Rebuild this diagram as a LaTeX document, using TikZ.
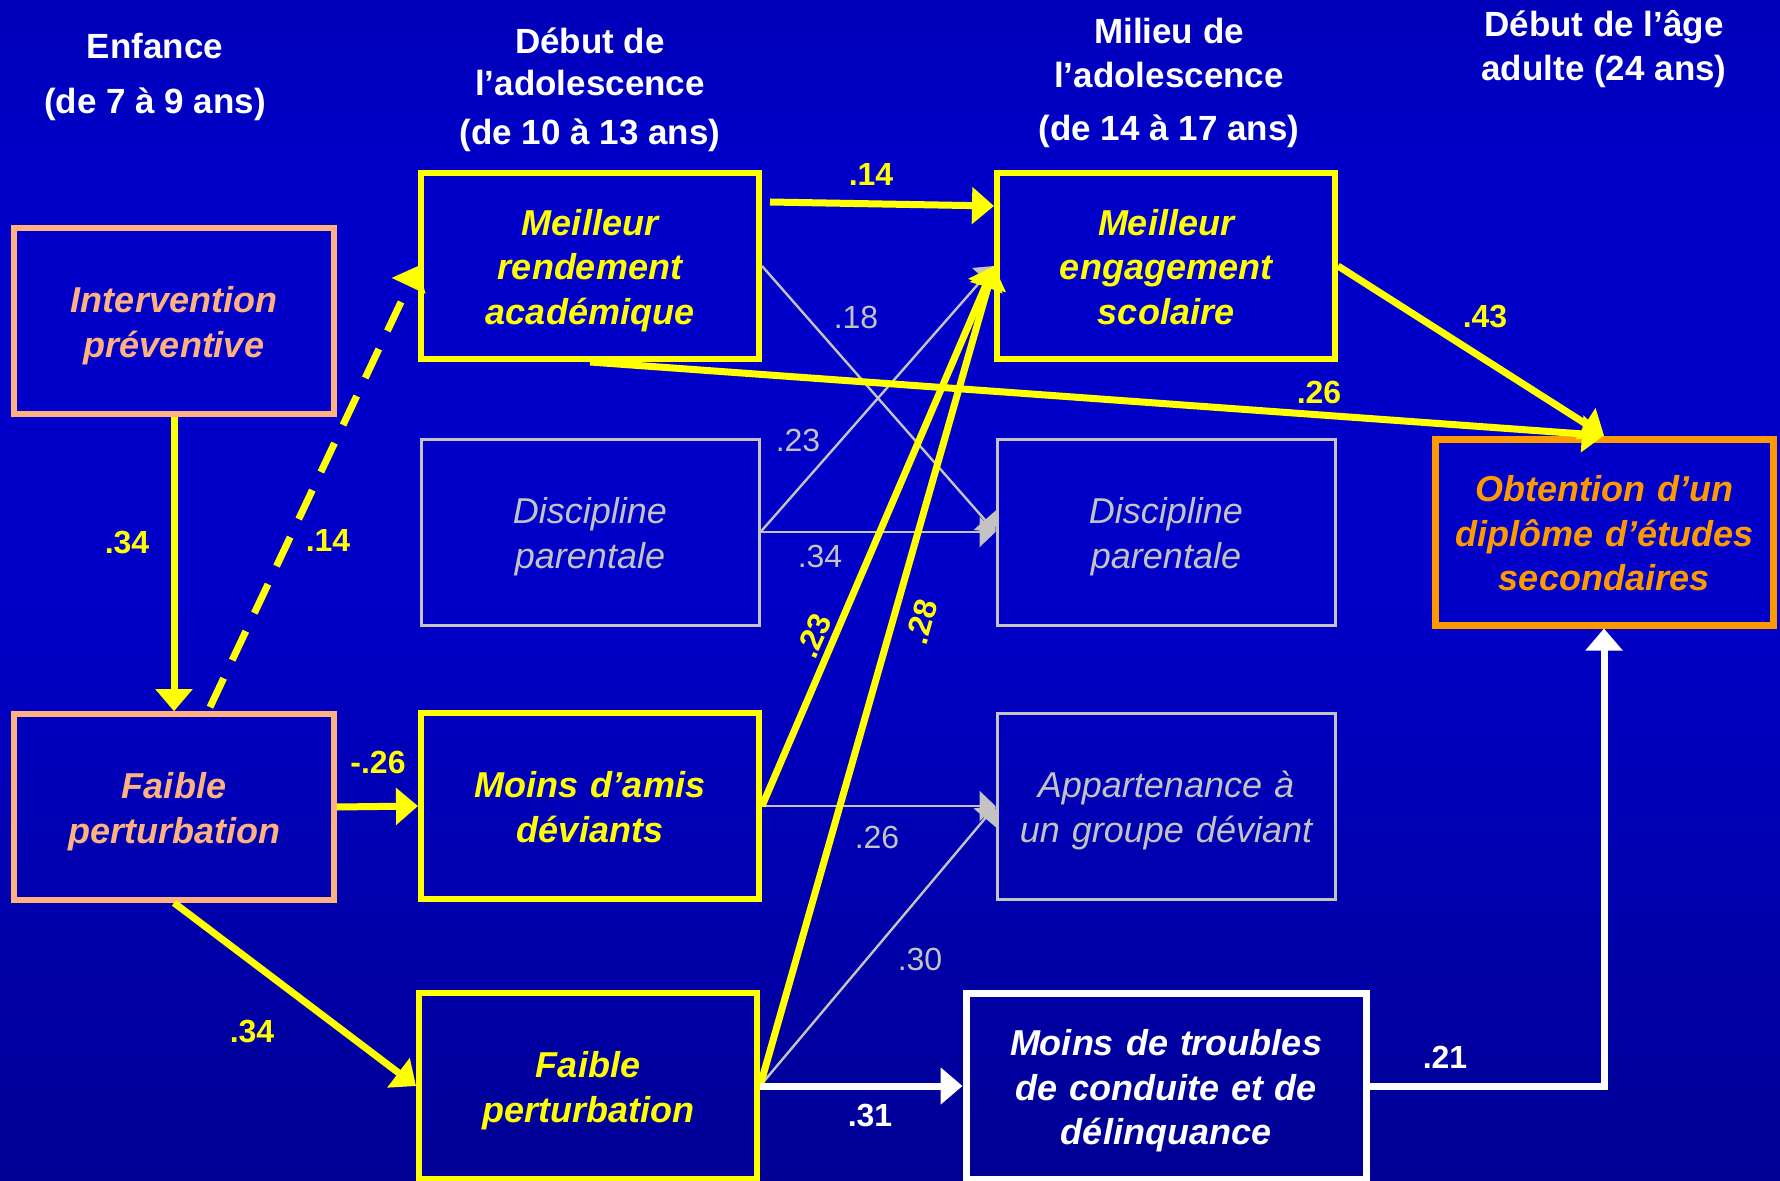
\documentclass[tikz,border=0pt]{standalone}
\usepackage{fontspec}
\setmainfont{Liberation Sans}
\usetikzlibrary{arrows.meta}

\definecolor{bgtop}{RGB}{0,0,128}
\definecolor{bgmid}{RGB}{0,0,200}
\definecolor{bgbot}{RGB}{0,0,96}
\definecolor{peach}{RGB}{255,178,128}
\definecolor{obtorange}{RGB}{255,153,0}
\definecolor{greyline}{RGB}{195,195,195}
\definecolor{yel}{RGB}{255,255,0}
\pgfdeclareverticalshading{slide}{100bp}{color(0bp)=(bgbot); color(50bp)=(bgmid); color(68bp)=(bgmid); color(100bp)=(bgtop)}

\begin{document}
\begin{tikzpicture}[x=0.5pt, y=-0.5pt,
  box/.style={rectangle, draw, line width=3pt, minimum width=169pt, minimum height=93pt, text width=160pt, align=center, font=\fontsize{18}{22.25}\selectfont\bfseries\itshape,
    execute at begin node={\rule{0pt}{18pt}}, execute at end node={\rule[-4pt]{0pt}{4pt}}},
  peachbox/.style={box, draw=peach, text=peach, line width=2.8pt, minimum width=160pt, text width=150pt},
  yellowbox/.style={box, draw=yel, text=yel},
  greybox/.style={box, draw=greyline, text=greyline, line width=1.5pt, font=\fontsize{18}{22.25}\selectfont\itshape},
  head/.style={text=white, align=center, font=\fontsize{17.5}{21}\selectfont\bfseries},
  arrow/.style={line width=3.5pt, -{Triangle[length=11pt,width=18pt]}},
  thin/.style={draw=greyline, line width=1.2pt, -{Triangle[length=8pt,width=15pt]}},
  val/.style={text=yel, inner sep=0pt, font=\fontsize{16}{19}\selectfont\bfseries},
  gval/.style={val, text=greyline, font=\fontsize{16}{19}\selectfont}]
\path[use as bounding box] (0,0) rectangle (1780,1181);
\shade[shading=slide] (0,0) rectangle (1780,1181);
% age headings
\node[head] (hEnf) at (155,77) {Enfance\\[6.5pt](de 7 à 9 ans)};
\node[head] (hDeb) at (590,90) {Début de\\l’adolescence\\[3.5pt](de 10 à 13 ans)};
\node[head] (hMil) at (1169,83) {Milieu de\\[1pt]l’adolescence\\[5.5pt](de 14 à 17 ans)};
\node[head] (hAdu) at (1604,49) {Début de l’âge\\[1pt]adulte (24 ans)};
% boxes
\node[peachbox] (interv) at (174,321) {Intervention\\préventive};
\node[peachbox] (faibleA) at (174,807) {Faible\\perturbation};
\node[yellowbox] (rendement) at (590,266) {Meilleur\\rendement\\académique};
\node[greybox] (discA) at (590,532) {Discipline\\parentale};
\node[yellowbox] (amis) at (590,806) {Moins d’amis\\déviants};
\node[yellowbox] (faibleB) at (588,1086) {Faible\\perturbation};
\node[yellowbox] (engagement) at (1166,266) {Meilleur\\engagement\\scolaire};
\node[greybox] (discB) at (1166,532) {Discipline\\parentale};
\node[greybox] (appart) at (1166,806) {Appartenance à\\un groupe déviant};
\node[box, draw=white, text=white, line width=3.5pt, minimum width=200pt, text width=190pt] (troubles) at (1166,1086) {Moins de troubles\\de conduite et de\\délinquance};
\node[box, draw=obtorange, text=obtorange, line width=3.5pt] (obtention) at (1604,532) {Obtention d’un\\diplôme d’études\\secondaires};
% grey paths
\draw[thin] (rendement.east) -- (discB.west);
\draw[thin] (discA.east) -- (engagement.west);
\draw[thin] (discA.east) -- (discB.west);
\draw[thin] (amis.east) -- (appart.west);
\draw[thin] (faibleB.east) -- (appart.west);
% yellow paths
\draw[arrow, draw=yel] (interv.south) -- (faibleA.north);
\draw[arrow, draw=yel, dash pattern=on 16pt off 10pt] ([xshift=18pt,yshift=2pt]faibleA.north) -- (rendement.west);
\draw[arrow, draw=yel] (faibleA.east) -- (amis.west);
\draw[arrow, draw=yel] (faibleA.south) -- (faibleB.west);
\draw[arrow, draw=yel] ([xshift=4pt,yshift=32pt]rendement.east) -- ([yshift=30pt]engagement.west);
\draw[arrow, draw=yel] (rendement.south) -- (obtention.north);
\draw[arrow, draw=yel] (engagement.east) -- (obtention.north);
\draw[arrow, draw=yel] (amis.east) -- (engagement.west);
\draw[arrow, draw=yel] (faibleB.east) -- (engagement.west);
% white paths
\draw[arrow, draw=white] (faibleB.east) -- (troubles.west);
\draw[arrow, draw=white] (troubles.east) -| (obtention.south);
% coefficients
\node[val] (v1) at (127,543) {.34};
\node[val] (v2) at (328,540) {.14};
\node[val] (v3) at (378,762) {-.26};
\node[val] (v4) at (252,1031) {.34};
\node[val] (v5) at (871,174) {.14};
\node[gval] (v6) at (856,317) {.18};
\node[gval] (v7) at (798,440) {.23};
\node[gval] (v8) at (820,556) {.34};
\node[val, rotate=66] (v9) at (814,636) {.23};
\node[val, rotate=74] (v10) at (922,622) {.28};
\node[gval] (v11) at (877,837) {.26};
\node[gval] (v12) at (920,959) {.30};
\node[val, text=white] (v13) at (870,1115) {.31};
\node[val, text=white] (v14) at (1445,1057) {.21};
\node[val] (v15) at (1485,317) {.43};
\node[val] (v16) at (1319,392) {.26};
\end{tikzpicture}
\end{document}
